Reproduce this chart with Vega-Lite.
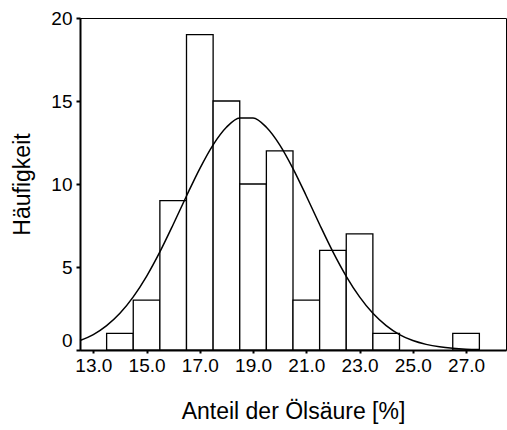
{
  "$schema": "https://vega.github.io/schema/vega-lite/v6.json",
  "width": 426,
  "height": 332,
  "autosize": {"type": "none"},
  "padding": {"left": 80, "top": 18, "right": 1, "bottom": 80},
  "background": "white",
  "config": {
    "view": {"stroke": "black", "strokeWidth": 1},
    "font": "Liberation Sans",
    "axis": {
      "grid": false,
      "domainColor": "black",
      "domainWidth": 2,
      "ticks": true,
      "tickColor": "black",
      "tickOpacity": 1,
      "labelColor": "black",
      "titleColor": "black",
      "labelFont": "Liberation Sans",
      "titleFont": "Liberation Sans",
      "labelFontSize": 19,
      "titleFontSize": 23,
      "titleFontWeight": "normal"
    }
  },
  "datasets": {
    "bins": [
      {"von": 13.5, "bis": 14.5, "anzahl": 1},
      {"von": 14.5, "bis": 15.5, "anzahl": 3},
      {"von": 15.5, "bis": 16.5, "anzahl": 9},
      {"von": 16.5, "bis": 17.5, "anzahl": 19},
      {"von": 17.5, "bis": 18.5, "anzahl": 15},
      {"von": 18.5, "bis": 19.5, "anzahl": 10},
      {"von": 19.5, "bis": 20.5, "anzahl": 12},
      {"von": 20.5, "bis": 21.5, "anzahl": 3},
      {"von": 21.5, "bis": 22.5, "anzahl": 6},
      {"von": 22.5, "bis": 23.5, "anzahl": 7},
      {"von": 23.5, "bis": 24.5, "anzahl": 1},
      {"von": 26.5, "bis": 27.5, "anzahl": 1}
    ],
    "kurve": [
      {"x": 12.5, "y": 0.57},
      {"x": 13.0, "y": 0.93},
      {"x": 13.5, "y": 1.47},
      {"x": 14.0, "y": 2.21},
      {"x": 14.5, "y": 3.2},
      {"x": 15.0, "y": 4.44},
      {"x": 15.5, "y": 5.91},
      {"x": 16.0, "y": 7.56},
      {"x": 16.5, "y": 9.28},
      {"x": 17.0, "y": 10.93},
      {"x": 17.5, "y": 12.36},
      {"x": 18.0, "y": 13.42},
      {"x": 18.5, "y": 13.98},
      {"x": 19.0, "y": 13.98},
      {"x": 19.5, "y": 13.42},
      {"x": 20.0, "y": 12.36},
      {"x": 20.5, "y": 10.93},
      {"x": 21.0, "y": 9.28},
      {"x": 21.5, "y": 7.56},
      {"x": 22.0, "y": 5.91},
      {"x": 22.5, "y": 4.44},
      {"x": 23.0, "y": 3.2},
      {"x": 23.5, "y": 2.21},
      {"x": 24.0, "y": 1.47},
      {"x": 24.5, "y": 0.93},
      {"x": 25.0, "y": 0.57},
      {"x": 25.5, "y": 0.34},
      {"x": 26.0, "y": 0.19},
      {"x": 26.5, "y": 0.1},
      {"x": 27.0, "y": 0.05},
      {"x": 27.5, "y": 0.03}
    ]
  },
  "layer": [
    {
      "data": {"name": "bins"},
      "mark": {"type": "bar", "fill": "white", "stroke": "black", "strokeWidth": 1.3},
      "encoding": {
        "x": {
          "field": "von",
          "type": "quantitative",
          "scale": {"domain": [12.5, 28.5], "nice": false, "zero": false},
          "axis": {
            "values": [13, 14, 15, 16, 17, 18, 19, 20, 21, 22, 23, 24, 25, 26, 27, 28],
            "labelExpr": "datum.value % 2 == 1 ? format(datum.value, '.1f') : ''",
            "tickSize": 3,
            "tickWidth": 2,
            "labelPadding": 3,
            "labelFlush": false,
            "labelOverlap": false,
            "title": "Anteil der Ölsäure [%]",
            "titlePadding": 25
          }
        },
        "x2": {"field": "bis"},
        "y": {
          "field": "anzahl",
          "type": "quantitative",
          "scale": {"domain": [0, 20], "nice": false},
          "axis": {
            "values": [0, 5, 10, 15, 20],
            "labelBaseline": {"condition": {"test": "datum.value == 0", "value": "bottom"}, "value": "middle"},
            "tickSize": 4,
            "tickWidth": 2,
            "labelPadding": 4,
            "labelFlush": false,
            "labelOverlap": false,
            "title": "Häufigkeit",
            "titlePadding": 16
          }
        },
        "y2": {"datum": 0}
      }
    },
    {
      "data": {"name": "kurve"},
      "mark": {"type": "line", "color": "black", "strokeWidth": 1.5, "interpolate": "monotone"},
      "encoding": {
        "x": {"field": "x", "type": "quantitative"},
        "y": {"field": "y", "type": "quantitative"}
      }
    }
  ]
}
